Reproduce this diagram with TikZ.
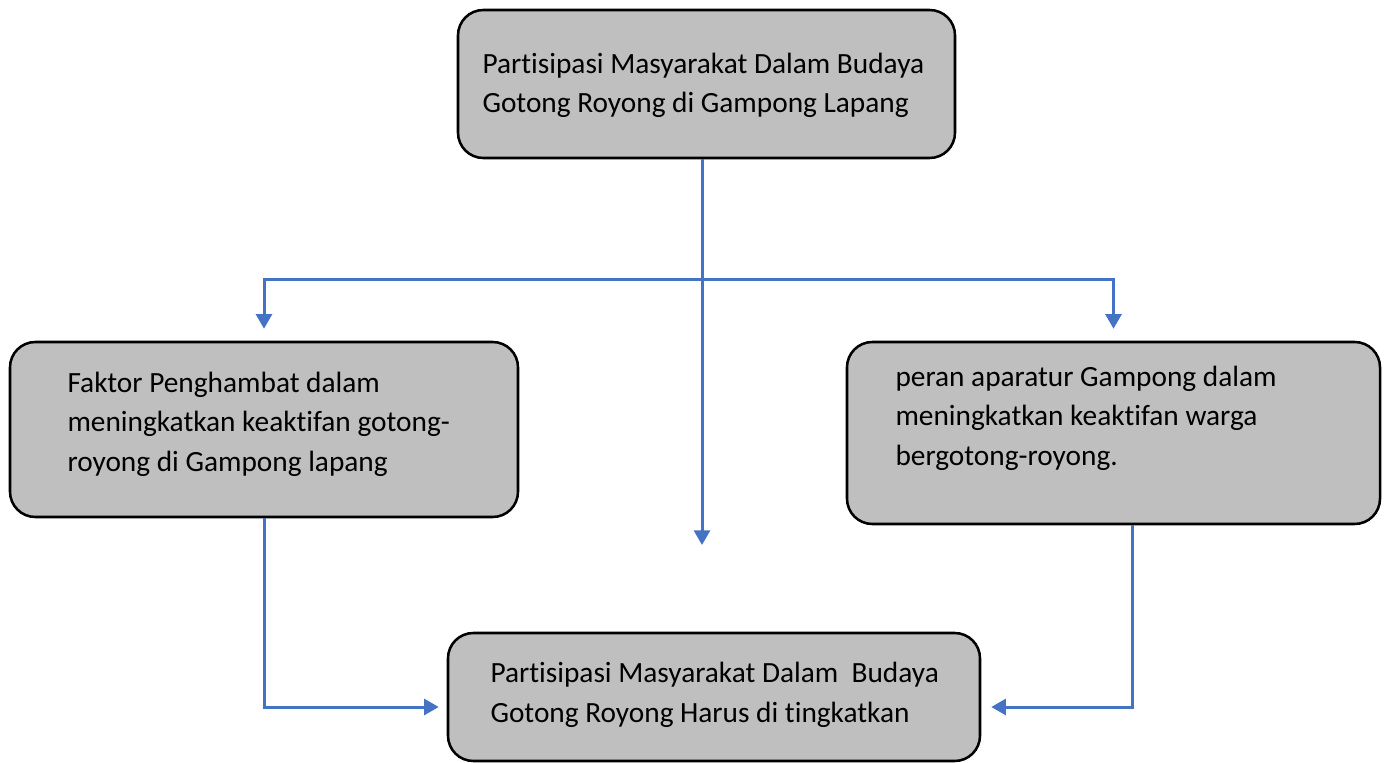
\documentclass[tikz,border=0pt]{standalone}
\usepackage{fontspec}
\setmainfont{Carlito}[RawFeature={-liga;-clig}]
\usetikzlibrary{arrows.meta}

\tikzset{every picture/.style={line width=0.75pt}}
\tikzset{
  kotak/.style={draw=black, line width=1.9pt, fill={rgb,255:red,191;green,191;blue,191}, rounded corners=19pt, inner sep=0pt},
  teks/.style={anchor=base west, inner sep=0pt, align=left, font=\fontsize{22}{29.5}\selectfont},
  panah/.style={draw={rgb,255:red,68;green,114;blue,196}, line width=2.25pt, -{Triangle[width=12pt,length=11pt]}}
}

\begin{document}
\begin{tikzpicture}[x=0.75pt,y=0.75pt,yscale=-1,xscale=1]
\useasboundingbox (0,0) rectangle (1385,763);

%Rounded Rect
\node [kotak, minimum width=372.75pt, minimum height=111pt] (partisipasi) at (706.5,84) {};
%Rounded Rect
\node [kotak, minimum width=381pt, minimum height=131.25pt] (faktor) at (264,429.5) {};
%Rounded Rect
\node [kotak, minimum width=399.75pt, minimum height=136.5pt] (peran) at (1113.5,433) {};
%Rounded Rect
\node [kotak, minimum width=399pt, minimum height=96pt] (harus) at (714,697) {};

% Text Node
\node [teks] (partisipasiTeks) at (482,113) {Partisipasi Masyarakat Dalam Budaya\\Gotong Royong di Gampong Lapang};
% Text Node
\node [teks] (faktorTeks) at (67,471) {Faktor Penghambat dalam\\meningkatkan keaktifan gotong-\\royong di Gampong lapang};
% Text Node
\node [teks] (peranTeks) at (895,465) {peran aparatur Gampong dalam\\meningkatkan keaktifan warga\\bergotong-royong.};
% Text Node
\node [teks] (harusTeks) at (490,722) {Partisipasi Masyarakat Dalam~~Budaya\\Gotong Royong Harus di tingkatkan};

\coordinate (tengah) at (702,545);
\coordinate (cabang) at (702,279);

%Straight Lines
\draw [panah] (partisipasi.south -| tengah) -- (tengah);
%Straight Lines
\draw [panah, shorten >=9pt] (cabang) -| (faktor.north);
%Straight Lines
\draw [panah, shorten >=9pt] (cabang) -| (peran.north);
%Straight Lines
\draw [panah, shorten >=6pt] (faktor.south) |- ([yshift=7.5pt]harus.west);
%Straight Lines
\draw [panah, shorten >=7.5pt] ([xshift=14.6pt]peran.south) |- ([yshift=7.5pt]harus.east);

\end{tikzpicture}
\end{document}
